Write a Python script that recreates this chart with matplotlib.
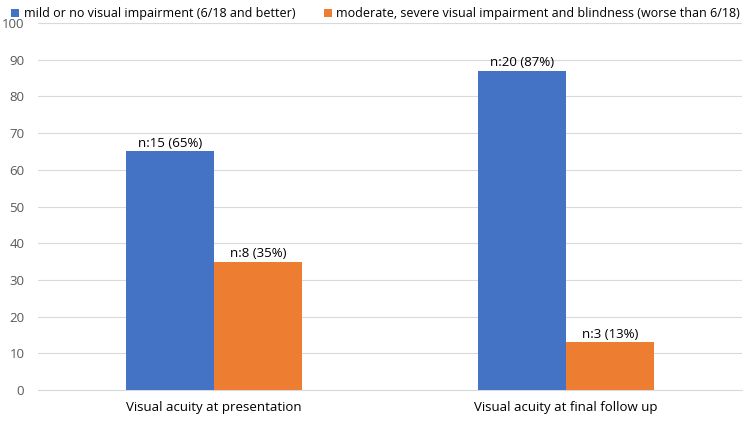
import numpy as np
import matplotlib.pyplot as plt

plt.rcParams['font.family'] = ['Open Sans', 'DejaVu Sans']

# Data
categories = ["Visual acuity at presentation", "Visual acuity at final follow up"]
series_names = ["mild or no visual impairment (6/18 and better)",
                "moderate, severe visual impairment and blindness (worse than 6/18)"]
mild_values = [65, 87]
severe_values = [35, 13]
mild_labels = ["n:15 (65%)", "n:20 (87%)"]
severe_labels = ["n:8 (35%)", "n:3 (13%)"]

blue = "#4472C4"
orange = "#ED7D31"

fig = plt.figure(figsize=(7.5, 4.21), dpi=100)
ax = fig.add_axes([0.051, 0.074, 0.938, 0.871])

x = np.arange(len(categories))
w = 0.25
b1 = ax.bar(x - w / 2, mild_values, w, color=blue, label=series_names[0], zorder=3)
b2 = ax.bar(x + w / 2, severe_values, w, color=orange, label=series_names[1], zorder=3)

for bars, labels in [(b1, mild_labels), (b2, severe_labels)]:
    for bar, lab in zip(bars, labels):
        ax.text(bar.get_x() + bar.get_width() / 2, bar.get_height() + 0.4, lab,
                ha="center", va="bottom", fontsize=9.5, color="#000000")

ax.set_xlim(-0.5, 1.5)
ax.set_ylim(0, 100)
ax.set_yticks(range(0, 101, 10))
ax.set_xticks(x)
ax.set_xticklabels(categories, fontsize=9.5)
ax.tick_params(axis="y", labelsize=9.5, colors="#595959", length=0, pad=10)
ax.tick_params(axis="x", length=0, pad=8)
ax.grid(axis="y", color="#D9D9D9", linewidth=0.8, zorder=0)
for s in ["top", "right", "left"]:
    ax.spines[s].set_visible(False)
ax.spines["bottom"].set_color("#D9D9D9")

fig.legend(handles=[b1, b2], labels=series_names, loc="upper left",
           bbox_to_anchor=(0.0, 1.01), ncol=2, frameon=False, fontsize=9,
           handlelength=0.6, handleheight=0.6, columnspacing=2.3, handletextpad=0.4)

fig.savefig("out.png", dpi=100)
